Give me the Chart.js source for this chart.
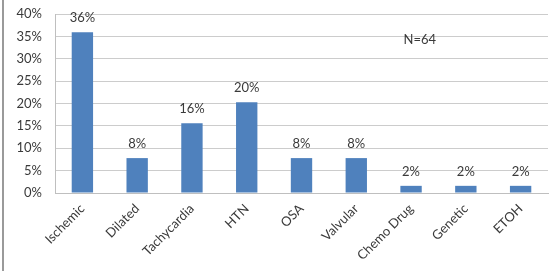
<!DOCTYPE html>
<html>
<head>
<meta charset="utf-8">
<script src="https://cdn.jsdelivr.net/npm/chart.js@4"></script>
<style>
  html, body { margin: 0; padding: 0; background: #fff; }
  #wrap { position: relative; width: 556px; height: 271px; }
  #wrap:before { content: ''; position: absolute; left: 2px; top: 0; bottom: 0; width: 2px; background: #9a9a9a; }
</style>
</head>
<body>
<div id="wrap"><canvas id="causeChart" width="556" height="271"></canvas></div>
<script>
// causes of cardiomyopathy, share of patients (N=64)
const categories = ['Ischemic', 'Dilated', 'Tachycardia', 'HTN', 'OSA', 'Valvular', 'Chemo Drug', 'Genetic', 'ETOH'];
const percents = [35.9, 7.8, 15.6, 20.3, 7.8, 7.8, 1.6, 1.6, 1.6];
const yTicks = [0, 5, 10, 15, 20, 25, 30, 35, 40];
const noteText = 'N=64';

const textColor = '#3a3a3a';
const fontFamily = 'Lato, "Liberation Sans", sans-serif';

// draws the rounded value above each bar plus the N=64 note
const barLabels = {
    id: 'barLabels',
    afterDatasetsDraw(chart) {
        const ctx = chart.ctx;
        const meta = chart.getDatasetMeta(0);
        ctx.save();
        ctx.fillStyle = textColor;
        ctx.font = '13px ' + fontFamily;
        ctx.textAlign = 'center';
        ctx.textBaseline = 'bottom';
        meta.data.forEach((bar, i) => {
            ctx.fillText(Math.round(percents[i]) + '%', bar.x, bar.y - 8);
        });
        const area = chart.chartArea;
        ctx.textBaseline = 'middle';
        ctx.fillText(noteText, area.left + area.width * 0.74, chart.scales.y.getPixelForValue(34.2));
        ctx.restore();
    }
};

const ctx = document.getElementById('causeChart').getContext('2d');
new Chart(ctx, {
    type: 'bar',
    data: {
        labels: categories,
        datasets: [{
            data: percents,
            backgroundColor: '#4F81BD',
            borderWidth: 0,
            barPercentage: 0.39,
            categoryPercentage: 1
        }]
    },
    options: {
        responsive: false,
        animation: false,
        layout: { padding: { top: 14, right: 8, left: 0, bottom: 0 } },
        plugins: {
            legend: { display: false },
            tooltip: { enabled: false }
        },
        scales: {
            x: {
                grid: { display: false, drawTicks: false },
                border: { color: '#bfbfbf', width: 1 },
                ticks: {
                    color: textColor,
                    font: { size: 13, family: fontFamily },
                    minRotation: 45,
                    maxRotation: 45,
                    padding: 8,
                    autoSkip: false
                },
                afterFit: (scale) => { scale.height = 78; scale.paddingTop = 0; }
            },
            y: {
                min: 0,
                max: 40,
                afterBuildTicks: (scale) => { scale.ticks = yTicks.map(v => ({ value: v })); },
                grid: { color: '#cccccc', lineWidth: 1, drawTicks: false },
                border: { color: '#bfbfbf', width: 1 },
                ticks: {
                    color: textColor,
                    font: { size: 13, family: fontFamily },
                    padding: 13,
                    callback: (v) => v + '%'
                },
                afterFit: (scale) => { scale.width = 55; scale.paddingTop = 0; scale.paddingBottom = 0; }
            }
        }
    },
    plugins: [barLabels]
});
</script>
</body>
</html>
